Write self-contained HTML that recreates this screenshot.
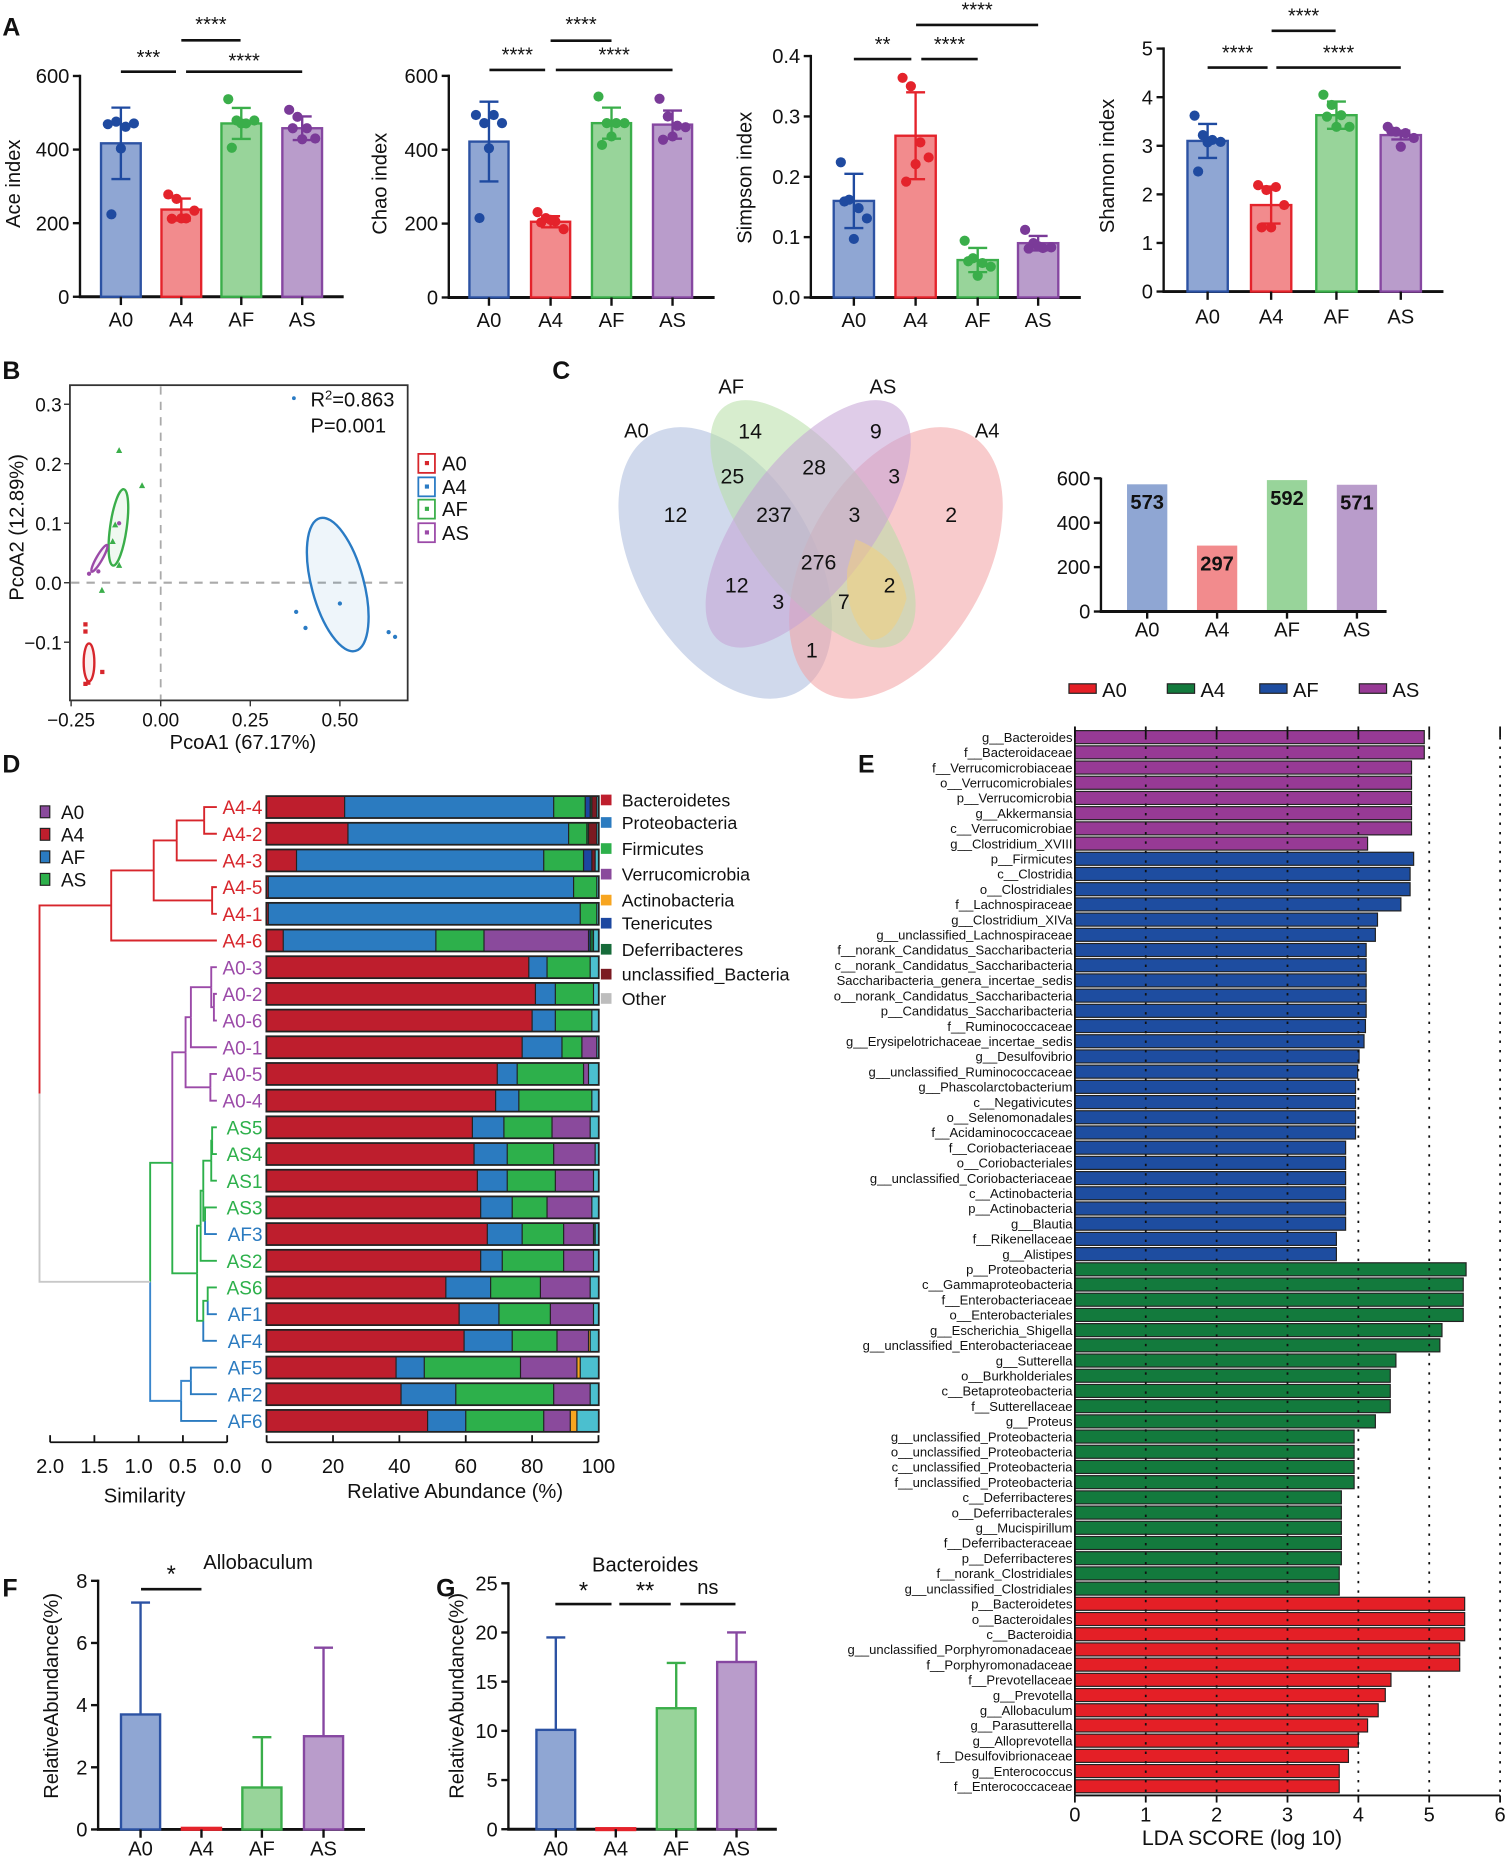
<!DOCTYPE html>
<html><head><meta charset="utf-8"><title>Microbiome figure</title>
<style>
html,body{margin:0;padding:0;background:#fff;}
svg{display:block;font-family:"Liberation Sans",Arial,sans-serif;}
</style></head>
<body>
<svg id="fig" xmlns="http://www.w3.org/2000/svg" width="1511" height="1863" viewBox="0 0 1275 1572">
<rect x="0" y="0" width="1275" height="1572" fill="#fff"/>
</svg>
<script>
// ---------- DATA ----------
const groups = ['A0','A4','AF','AS'];
const aceMeans = [417,237,471,458];
const aceSd = [97,30,42,32];
const aceDots = [[469,476,462,471,403,224],[278,266,213,234,213,212],[537,479,471,479,471,405],[508,489,458,430,428,458]];
const chaoMeans = [422,205,472,468];
const chaoSd = [108,15,42,38];
const chaoDots = [[494,472,494,472,404,215],[231,215,206,185,210,203],[544,472,472,472,436,413],[538,490,465,461,436,427]];
const simpMeans = [0.16,0.268,0.062,0.09];
const simpSd = [0.045,0.072,0.02,0.012];
const simpDots = [[0.224,0.162,0.148,0.131,0.097,0.159],[0.364,0.35,0.257,0.232,0.221,0.192],[0.094,0.065,0.057,0.051,0.036,0.06],[0.112,0.09,0.082,0.083,0.085,0.081]];
const shanMeans = [3.1,1.78,3.63,3.22];
const shanSd = [0.35,0.38,0.28,0.09];
const shanDots = [[3.62,3.22,3.12,3.08,3.07,2.47],[2.19,2.09,2.15,1.78,1.32,1.32],[4.05,3.84,3.63,3.39,3.39,3.6],[3.39,3.29,3.26,3.16,2.98,3.3]];
const aceTicks = [0,200,400,600];
const simpTicks = [0.0,0.1,0.2,0.3,0.4];
const shanTicks = [0,1,2,3,4,5];

const pcoaGroups = ['A0','A4','AF','AS'];
const pcoaA0 = [[-0.21,-0.07],[-0.21,-0.082],[-0.163,-0.15],[-0.21,-0.17],[-0.202,-0.168]];
const pcoaA4 = [[0.378,-0.049],[0.404,-0.076],[0.5,-0.035],[0.636,-0.083],[0.654,-0.091]];
const pcoaAF = [[-0.116,0.222],[-0.052,0.163],[-0.127,0.097],[-0.134,0.069],[-0.116,0.029],[-0.164,-0.013]];
const pcoaAS = [[-0.2,0.015],[-0.174,0.019],[-0.116,0.1]];
const ellipseCenters = [[-0.2,-0.134],[0.494,-0.003],[-0.118,0.093],[-0.171,0.041]];
const pcoaTicksX = [-0.25,0,0.25,0.5];
const pcoaTicksY = [-0.1,0,0.1,0.2,0.3];

const vennCounts = ['14','9','12','25','28','3','2','237','3','276','12','3','7','2','1'];
const otuCounts = [573,297,592,571];
const otuTicks = [0,200,400,600];

const sampleNames = ['A4-4','A4-2','A4-3','A4-5','A4-1','A4-6','A0-3','A0-2','A0-6','A0-1','A0-5','A0-4','AS5','AS4','AS1','AS3','AF3','AS2','AS6','AF1','AF4','AF5','AF2','AF6'];
const phyla = ['Bacteroidetes','Proteobacteria','Firmicutes','Verrucomicrobia','Actinobacteria','Tenericutes','Deferribacteres','unclassified_Bacteria','Other'];
const abundance = [
 [23.5,63,9.5,0,0,1.5,0.5,1.5,0.5],
 [24.5,66.5,5.5,0,0,0,0.5,2.5,0.5],
 [9,74.5,12,0,0,2.5,0,1,1],
 [0.5,92,7,0,0,0,0,0,0.5],
 [0.5,94,5,0,0,0,0,0,0.5],
 [5,46,14.5,31.5,0,0.5,1,0,1.5],
 [79,5.5,13,0,0,0,0,0,2.5],
 [81,6,11.5,0,0,0,0,0,1.5],
 [80,7,11,0,0,0,0,0,2],
 [77,12,6,4.5,0,0,0,0,0.5],
 [69.5,6,20,1.5,0,0,0,0,3],
 [69,7,22,0,0,0,0,0,2],
 [62,9.5,14.5,11.5,0,0,0,0,2.5],
 [62.5,10,14,12.5,0,0,0,0,1],
 [63.5,9,14.5,11.5,0,0,0,0,1.5],
 [64.5,9.5,10.5,13.5,0,0,0,0,2],
 [66.5,10.5,12.5,9,0,0,0.5,0,1],
 [64.5,6.5,18.5,9,0,0,0,0,1.5],
 [54,13.5,15,15,0,0,0,0,2.5],
 [58,12,15.5,13,0,0,0,0,1.5],
 [59.5,14.5,13.5,9.5,0.5,0,0,0,2.5],
 [39,8.5,29,17,1,0,0,0,5.5],
 [40.5,16.5,29.5,11,0,0,0,0,2.5],
 [48.5,11.5,23.5,8,2,0,0,0,6.5]
];
const abundTicks = [0,20,40,60,80,100];
const simTicks = [2.0,1.5,1.0,0.5,0.0];

const ldaGroups = ['A0','A4','AF','AS'];
const ldaNames = ['g__Bacteroides','f__Bacteroidaceae','f__Verrucomicrobiaceae','o__Verrucomicrobiales','p__Verrucomicrobia','g__Akkermansia','c__Verrucomicrobiae','g__Clostridium_XVIII',
'p__Firmicutes','c__Clostridia','o__Clostridiales','f__Lachnospiraceae','g__Clostridium_XIVa','g__unclassified_Lachnospiraceae','f__norank_Candidatus_Saccharibacteria','c__norank_Candidatus_Saccharibacteria','Saccharibacteria_genera_incertae_sedis','o__norank_Candidatus_Saccharibacteria','p__Candidatus_Saccharibacteria','f__Ruminococcaceae','g__Erysipelotrichaceae_incertae_sedis','g__Desulfovibrio','g__unclassified_Ruminococcaceae','g__Phascolarctobacterium','c__Negativicutes','o__Selenomonadales','f__Acidaminococcaceae','f__Coriobacteriaceae','o__Coriobacteriales','g__unclassified_Coriobacteriaceae','c__Actinobacteria','p__Actinobacteria','g__Blautia','f__Rikenellaceae','g__Alistipes',
'p__Proteobacteria','c__Gammaproteobacteria','f__Enterobacteriaceae','o__Enterobacteriales','g__Escherichia_Shigella','g__unclassified_Enterobacteriaceae','g__Sutterella','o__Burkholderiales','c__Betaproteobacteria','f__Sutterellaceae','g__Proteus','g__unclassified_Proteobacteria','o__unclassified_Proteobacteria','c__unclassified_Proteobacteria','f__unclassified_Proteobacteria','c__Deferribacteres','o__Deferribacterales','g__Mucispirillum','f__Deferribacteraceae','p__Deferribacteres','f__norank_Clostridiales','g__unclassified_Clostridiales',
'p__Bacteroidetes','o__Bacteroidales','c__Bacteroidia','g__unclassified_Porphyromonadaceae','f__Porphyromonadaceae','f__Prevotellaceae','g__Prevotella','g__Allobaculum','g__Parasutterella','g__Alloprevotella','f__Desulfovibrionaceae','g__Enterococcus','f__Enterococcaceae'];
const ldaScores = [4.93,4.93,4.75,4.75,4.75,4.75,4.75,4.13,
4.78,4.73,4.73,4.6,4.27,4.24,4.11,4.11,4.11,4.11,4.11,4.1,4.08,4.01,3.99,3.96,3.96,3.96,3.96,3.82,3.82,3.82,3.82,3.82,3.82,3.69,3.69,
5.52,5.48,5.48,5.48,5.18,5.15,4.53,4.45,4.45,4.45,4.24,3.94,3.94,3.94,3.94,3.76,3.76,3.76,3.76,3.76,3.73,3.73,
5.5,5.5,5.5,5.43,5.43,4.46,4.38,4.28,4.13,4.0,3.86,3.73,3.73];
const ldaClass = [];
for (let i=0;i<8;i++) ldaClass.push('AS');
for (let i=0;i<27;i++) ldaClass.push('AF');
for (let i=0;i<22;i++) ldaClass.push('A4');
for (let i=0;i<13;i++) ldaClass.push('A0');
const ldaTicks = [0,1,2,3,4,5,6];

const alloMeans = [3.7,0.05,1.35,3.0];
const alloUpper = [7.3,0.05,2.97,5.85];
const alloTicks = [0,2,4,6,8];
const bactMeans = [10.1,0.1,12.3,17.0];
const bactUpper = [19.5,0.1,16.9,20.0];
const bactTicks = [0,5,10,15,20,25];

// ---------- HELPERS ----------
const NS='http://www.w3.org/2000/svg';
const svg=document.getElementById('fig');
function mk(tag, attrs, parent){const e=document.createElementNS(NS,tag);for(const k in attrs)e.setAttribute(k,attrs[k]);(parent||svg).appendChild(e);return e;}
function grp(name,parent){const g=mk('g',{},parent);


return g;}
function txt(s,x,y,size,anchor,parent,extra){const a={x:x,y:y,'font-size':size,'text-anchor':anchor||'middle',fill:'#111'};if(extra)for(const k in extra)a[k]=extra[k];const t=mk('text',a,parent);t.textContent=s;return t;}
function line(x1,y1,x2,y2,stroke,w,parent,dash){const a={x1:x1,y1:y1,x2:x2,y2:y2,stroke:stroke,'stroke-width':w};if(dash)a['stroke-dasharray']=dash;return mk('line',a,parent);}

const fills={A0:'#8fa6d3',A4:'#f28b8d',AF:'#98d49a',AS:'#b99ccb'};
const strokes={A0:'#2c52a3',A4:'#e4232b',AF:'#3aae4a',AS:'#8647a1'};
const dotc={A0:'#1f4aa0',A4:'#e4232b',AF:'#3aae4a',AS:'#7a3a98'};

// panel labels
[['A',2,30],['B',2,320],['C',466,320],['D',2,652],['E',724,652],['F',2,1347],['G',368,1347]].forEach(p=>{
 const t=txt(p[0],p[1],p[2],21,'start',svg,{'font-weight':'bold'});
 
 
});

// ---------- PANEL A / F / G generic bar ----------
function barPanel(c){
 const g=grp(c.name);
 const ys=v=>c.y0-(v/c.max)*(c.y0-c.yTop);
 c.ticks.forEach(t=>{
  line(c.ax-6,ys(t),c.ax,ys(t),'#111',2,g);
  const tl=txt(c.fmt(t),c.ax-9,ys(t)+6,c.fs,'end',g);
  
  
 });
 line(c.ax,c.y0,c.ax,c.yTop-1,'#111',2,g);
 line(c.ax-1,c.y0,c.axEnd,c.y0,'#111',2.5,g);
 const yl=txt(c.ylabel,0,0,c.yfs,'middle',g,{transform:'translate('+c.ylx+','+c.yly+') rotate(-90)'});
 
 
 groups.forEach((gn,i)=>{
  const cx=c.cx[i];
  const top=ys(c.means[i]);
  const b=mk('rect',{x:cx-c.bw/2,y:top,width:c.bw,height:Math.max(c.y0-top,1.5),fill:fills[gn],stroke:strokes[gn],'stroke-width':2},g);
  
  
  let lo,hi;
  if(c.upper){lo=c.means[i];hi=c.upper[i];}else{lo=c.means[i]-c.sd[i];hi=c.means[i]+c.sd[i];}
  if(hi>lo){
   const ec=c.upper?strokes[gn]:dotc[gn];
   const eb=line(cx,ys(lo),cx,ys(hi),ec,2,g);
   
   
   line(cx-8,ys(hi),cx+8,ys(hi),ec,2,g);
   if(!c.upper)line(cx-8,ys(lo),cx+8,ys(lo),ec,2,g);
  }
  if(c.dots){
   const offs=[-11,-4,4,11,0,-8];
   c.dots[i].forEach((v,j)=>{
    const d=mk('circle',{cx:cx+offs[j],cy:ys(v),r:4.3,fill:dotc[gn]},g);
    
    
   });
  }
  line(cx,c.y0,cx,c.y0+7,'#111',2,g);
  const xl=txt(gn,cx,c.y0+c.xoff,c.fs,'middle',g);
  
  
 });
 (c.sig||[]).forEach(s=>{
  const sl=line(s[0],s[2],s[1],s[2],'#111',2.2,g);
  
  
  const st=txt(s[3],(s[0]+s[1])/2,s[4],s[5]||17,'middle',g);
  
  
 });
 if(c.title){
  const t2=txt(c.title,c.tx,c.ty,17,'middle',g);
  
  }
}
const fmt0=v=>String(v), fmt1=v=>v.toFixed(1);
barPanel({name:'ace-chart',ax:67.5,y0:250.4,yTop:64.1,max:600,ticks:aceTicks,fmt:fmt0,cx:[102,153,203.6,255],bw:33.5,means:aceMeans,sd:aceSd,dots:aceDots,axEnd:290,ylabel:'Ace index',ylx:17,yly:155,fs:17,yfs:17,xoff:25,
 sig:[[102,148.5,60.5,'***',54],[157,255,60.5,'****',57],[153,203,34,'****',26]]});
barPanel({name:'chao-chart',ax:378.7,y0:251,yTop:64,max:600,ticks:aceTicks,fmt:fmt0,cx:[412.6,464.6,516,567.5],bw:33,means:chaoMeans,sd:chaoSd,dots:chaoDots,axEnd:603,ylabel:'Chao index',ylx:326,yly:155,fs:17,yfs:17,xoff:25,
 sig:[[413,460,59,'****',52],[469,567.5,59,'****',52],[464.6,516,34.3,'****',26]]});
barPanel({name:'simpson-chart',ax:684.2,y0:251,yTop:47.3,max:0.4,ticks:simpTicks,fmt:fmt1,cx:[720.5,772.6,825,876],bw:34,means:simpMeans,sd:simpSd,dots:simpDots,axEnd:912,ylabel:'Simpson index',ylx:634,yly:150,fs:17,yfs:17,xoff:25,
 sig:[[720.5,769,49.8,'**',43],[777.4,825,49.8,'****',43],[773,876,21,'****',14]]});
barPanel({name:'shannon-chart',ax:981.9,y0:246,yTop:41,max:5,ticks:shanTicks,fmt:fmt0,cx:[1019,1072.6,1127.7,1182],bw:34,means:shanMeans,sd:shanSd,dots:shanDots,axEnd:1218,ylabel:'Shannon index',ylx:940,yly:140,fs:17,yfs:17,xoff:27,
 sig:[[1019,1069.6,57,'****',50],[1077,1182,57,'****',50],[1073,1127,26,'****',19]]});
barPanel({name:'allobaculum-chart',ax:82.8,y0:1543.7,yTop:1333.9,max:8,ticks:alloTicks,fmt:fmt0,cx:[118.6,170,221,273],bw:33,means:alloMeans,upper:alloUpper,axEnd:308,ylabel:'RelativeAbundance(%)',ylx:49,yly:1431,fs:17,yfs:17,xoff:22,
 sig:[[119,170,1341,'*',1335,20]],title:'Allobaculum',tx:217.8,ty:1324});
barPanel({name:'bacteroides-chart',ax:429,y0:1543.5,yTop:1336,max:25,ticks:bactTicks,fmt:fmt0,cx:[469,519.6,570.6,621.5],bw:32.7,means:bactMeans,upper:bactUpper,axEnd:655.5,ylabel:'RelativeAbundance(%)',ylx:391,yly:1431,fs:17,yfs:17,xoff:22,
 sig:[[468.6,516,1353.5,'*',1349,20],[522.6,566,1353.5,'**',1349,20],[574,620.6,1353.5,'ns',1345,17]],title:'Bacteroides',tx:544.4,ty:1326});

// ---------- PANEL B PCoA ----------
(function(){
 const g=grp('pcoa-plot');
 const xs=v=>135.6+v*302.4, ys=v=>491.7-v*502;
 mk('rect',{x:59,y:325,width:285,height:266,fill:'#fff',stroke:'#333','stroke-width':1.5},g);
 line(xs(0),326,xs(0),590,'#aaa',1.5,g,'7,6');
 line(60,ys(0),343,ys(0),'#aaa',1.8,g,'7,6');
 pcoaTicksX.forEach(t=>{line(xs(t),591,xs(t),596,'#333',1.2,g);
  const l=txt(t.toFixed(2).replace('-','\u2212'),xs(t),613,16,'middle',g);
  
  });
 pcoaTicksY.forEach(t=>{line(54,ys(t),59,ys(t),'#333',1.2,g);
  const l=txt(t.toFixed(1).replace('-','\u2212'),52,ys(t)+6,16,'end',g);
  
  });
 const xt=txt('PcoA1 (67.17%)',205,632,17,'middle',g);
 
 
 const yt=txt('PcoA2 (12.89%)',0,0,17,'middle',g,{transform:'translate(20,445) rotate(-90)'});
 
 
 const col={A0:'#d7262c',A4:'#2a7bc4',AF:'#3aae4a',AS:'#9b4aa8'};
 const ell=[[4.5,16,0],[22,58,-15],[7,32.5,8],[2.5,13,30]];
 pcoaGroups.forEach((gn,i)=>{
  const e=mk('ellipse',{cx:0,cy:0,rx:ell[i][0],ry:ell[i][1],fill:col[gn],'fill-opacity':0.08,stroke:col[gn],'stroke-width':2,transform:'translate('+xs(ellipseCenters[i][0])+','+ys(ellipseCenters[i][1])+') rotate('+ell[i][2]+')'},g);
  
  
 });
 function pts(arr,gn,shape){arr.forEach(p=>{let m;
  if(shape==='tri')m=mk('polygon',{points:(xs(p[0]))+','+(ys(p[1])-3)+' '+(xs(p[0])-2.6)+','+(ys(p[1])+2)+' '+(xs(p[0])+2.6)+','+(ys(p[1])+2),fill:col[gn]},g);
  else if(shape==='sq')m=mk('rect',{x:xs(p[0])-1.8,y:ys(p[1])-1.8,width:3.6,height:3.6,fill:col[gn]},g);
  else m=mk('circle',{cx:xs(p[0]),cy:ys(p[1]),r:1.8,fill:col[gn]},g);
  
  });}
 pts(pcoaA0,'A0','sq');pts(pcoaA4,'A4','c');pts(pcoaAF,'AF','tri');pts(pcoaAS,'AS','c');
 mk('circle',{cx:248,cy:336,r:1.6,fill:'#2a7bc4'},g);
 const r2=txt('',262,343,17,'start',g);
 
 
 const ts=mk('tspan',{},r2);ts.textContent='R';
 const sp=mk('tspan',{dy:-6,'font-size':11},r2);sp.textContent='2';
 const ts2=mk('tspan',{dy:6},r2);ts2.textContent='=0.863';
 const pv=txt('P=0.001',262,365,17,'start',g);
 
 
 const ly=[391,410.8,429.6,449.5];
 pcoaGroups.forEach((gn,i)=>{
  const lg=grp('legend-entry-'+gn.toLowerCase(),g);
  mk('rect',{x:353,y:ly[i]-8,width:14,height:16,fill:'#fff',stroke:col[gn],'stroke-width':1.5},lg);
  mk('rect',{x:358.5,y:ly[i]-2,width:3.5,height:3.5,fill:col[gn]},lg);
  txt(gn,373,ly[i]+6,17,'start',lg);
 });
})();

// ---------- PANEL C Venn + bars ----------
(function(){
 const g=grp('venn-diagram');
 const E=[['A0',612,475,75,125,-30,'#a9b9dc'],['A4',756,475,75,125,30,'#f3a0a2'],['AF',686,442,55,124,-37,'#b7dea6'],['AS',682,442,55,124,37,'#c5a3d6']];
 E.forEach(e=>{const el=mk('ellipse',{cx:0,cy:0,rx:e[3],ry:e[4],fill:e[6],'fill-opacity':0.55,transform:'translate('+e[1]+','+e[2]+') rotate('+e[5]+')'},g);
  
  });
 mk('path',{d:'M 722 455 Q 760 470 765 505 Q 755 540 735 540 Q 712 520 715 480 Z',fill:'#f0cf80','fill-opacity':0.55},g);
 const pos=[[633,364],[739,364],[570,434.5],[618,402],[687,394.5],[754.5,402],[802.6,434.5],[653,434.5],[721,434.5],[690.7,474.7],[621.7,494],[656.8,508],[712,508],[750.6,494],[685,549]];
 vennCounts.forEach((v,i)=>{const t=txt(v,pos[i][0],pos[i][1]+6,18,'middle',g);
  
  });
 [['A0',537,363],['AF',617,326],['AS',745,326],['A4',833,363]].forEach(l=>{const t=txt(l[0],l[1],l[2]+6,17,'middle',g);
  
  });

 const b=grp('otu-count-chart');
 const ys=v=>516-v/600*(516-403.6);
 const cxs=[968,1027,1086,1145];
 otuTicks.forEach(t=>{line(923,ys(t),929,ys(t),'#111',2,b);
  const l=txt(String(t),920,ys(t)+6,17,'end',b);
  
  });
 groups.forEach((gn,i)=>{
  const r=mk('rect',{x:cxs[i]-17,y:ys(otuCounts[i]),width:34,height:516-ys(otuCounts[i]),fill:fills[gn]},b);
  
  
  const v=txt(String(otuCounts[i]),cxs[i],ys(otuCounts[i])+21,17,'middle',b,{'font-weight':'bold'});
  
  
  line(cxs[i],516,cxs[i],522,'#111',2,b);
  const xl=txt(gn,cxs[i],537,17,'middle',b);
  
  
 });
 line(929,516,929,403,'#111',2,b);
 line(928,516,1170,516,'#111',2.5,b);
})();

// ---------- PANEL D ----------
(function(){
 const g=grp('community-composition');
 const phyCol=['#be1e2d','#2b7bc0','#2db04b','#8a4a9c','#f7a520','#1c47a0','#176b3a','#7b1a22','#4bbfcf'];
 const legCol=['#be1e2d','#2b7bc0','#2db04b','#8a4a9c','#f7a520','#1c47a0','#176b3a','#7b1a22','#bdbdbd'];
 const grpCol={A4:'#d7262c',A0:'#9b4aa8',AS:'#2db04b',AF:'#2b7bc0'};
 const rowY=i=>681+i*22.52;
 const xs=v=>225+v*2.8;
 sampleNames.forEach((s,i)=>{
  const gn=s.slice(0,2);
  const l=txt(s,221.5,rowY(i)+6,16,'end',g,{fill:grpCol[gn]});
  
  
  let acc=0;
  mk('rect',{x:xs(0)-1,y:rowY(i)-10,width:282,height:20,fill:'#222'},g);
  abundance[i].forEach((v,k)=>{
   if(v<=0)return;
   const r=mk('rect',{x:xs(acc)+0.5,y:rowY(i)-8.5,width:Math.max(v*2.8-1,0.5),height:17,fill:phyCol[k]},g);
   
   
   acc+=v;
  });
 });
 abundTicks.forEach(t=>{line(xs(t),1217,xs(t),1211,'#111',1.5,g);
  const l=txt(String(t),xs(t),1243,17,'middle',g);
  
  });
 line(xs(0),1217,xs(100),1217,'#111',1.5,g);
 const xt=txt('Relative Abundance (%)',384,1264,17,'middle',g);
 
 
 const sx=s=>191.7-s*74.7;
 simTicks.forEach(t=>{line(sx(t),1217,sx(t),1211,'#111',1.5,g);
  const l=txt(t.toFixed(1),sx(t),1243,17,'middle',g);
  
  });
 line(sx(2),1217,sx(0),1217,'#111',1.5,g);
 const st=txt('Similarity',122,1268,17,'middle',g);
 
 
 const nodes=[];
 sampleNames.forEach((s,i)=>nodes.push({x:183,y:rowY(i),c:grpCol[s.slice(0,2)]}));
 function join(a,b,h,c){const n={a:a,b:b,x:sx(h),y:(nodes[a].y+nodes[b].y)/2,c:c};nodes.push(n);return nodes.length-1;}
 const R='#d7262c',P='#9b4aa8',G='#2db04b',B='#3a86cc',Gy='#c8c8c8';
 const n1=join(0,1,0.26,R),n2=join(n1,2,0.57,R),n3=join(3,4,0.17,R),n4=join(n2,n3,0.83,R),n5=join(n4,5,1.31,R);
 const n6=join(7,8,0.15,P),n7=join(6,n6,0.18,P),n8=join(n7,9,0.41,P),n9=join(10,11,0.19,P),n10=join(n8,n9,0.47,P);
 const n11=join(12,13,0.17,G),n12=join(n11,14,0.18,G),n13=join(15,16,0.25,G),n14=join(n12,n13,0.27,G),n15=join(n14,17,0.3,G);
 const n16=join(18,19,0.22,G),n17=join(n16,20,0.27,G),n18=join(n15,n17,0.34,G),n19=join(n10,n18,0.62,G);
 const n20=join(21,22,0.41,B),n21=join(n20,23,0.52,B),n22=join(n19,n21,0.87,Gy),n23=join(n5,n22,2.12,Gy);
 nodes.forEach(n=>{
  if(n.a===undefined)return;
  [n.a,n.b].forEach(ci=>{const ch=nodes[ci];
   const p=mk('path',{d:'M'+n.x+' '+n.y+' V'+ch.y+' H'+ch.x,fill:'none',stroke:ch.c,'stroke-width':1.6},g);
   
   });
 });
 const gl=[['A0',685,'#8a4a9c'],['A4',704,'#be1e2d'],['AF',723,'#2b7bc0'],['AS',742,'#2db04b']];
 gl.forEach(e=>{const lg=grp('group-legend-'+e[0].toLowerCase(),g);
  mk('rect',{x:34,y:e[1]-5,width:8,height:10,fill:e[2],stroke:'#222','stroke-width':1},lg);
  txt(e[0],51.5,e[1]+6,16,'start',lg);});
 const ly=[675,694,716,737.6,759.5,779,801,822,842.5];
 phyla.forEach((p,k)=>{const lg=grp('phylum-legend-entry',g);
  mk('rect',{x:507,y:ly[k]-4.5,width:9,height:9,fill:legCol[k]},lg);
  txt(p,524.6,ly[k]+5.5,15,'start',lg);});
})();

// ---------- PANEL E LDA ----------
(function(){
 const g=grp('lda-chart');
 const col={A0:'#e41f26',A4:'#137a3d',AF:'#1e4da0',AS:'#973a95'};
 const xs=v=>907+v*59.8;
 const rowY=i=>622+i*12.83;
 ldaNames.forEach((n,i)=>{
  const c=ldaClass[i];
  const r=mk('rect',{x:907,y:rowY(i)-5.5,width:ldaScores[i]*59.8,height:11,fill:col[c],stroke:'#222','stroke-width':1},g);
  
  
  const l=txt(n,905,rowY(i)+4,11,'end',g);
  
  
 });
 ldaTicks.forEach(t=>{
  line(xs(t),613,xs(t),622,'#111',1.5,g);
  if(t>0)line(xs(t),622,xs(t),1515,'#111',1.5,g,'2,6');
  line(xs(t),1515,xs(t),1521,'#111',1.5,g);
  const l=txt(String(t),xs(t),1537,17,'middle',g);
  
  
 });
 line(907,613,907,1515,'#111',1.5,g);
 line(907,1515,xs(6),1515,'#111',1.5,g);
 const t=txt('LDA SCORE (log 10)',1048,1557,18,'middle',g);
 
 
 const lx=[[902,'A0'],[985,'A4'],[1063,'AF'],[1147,'AS']];
 lx.forEach(e=>{const lg=grp('legend-entry-'+e[1].toLowerCase(),g);
  mk('rect',{x:e[0],y:577,width:23,height:8,fill:col[e[1]],stroke:'#222','stroke-width':1},lg);
  txt(e[1],e[0]+28,588,17,'start',lg);});
})();
</script>
</body></html>
